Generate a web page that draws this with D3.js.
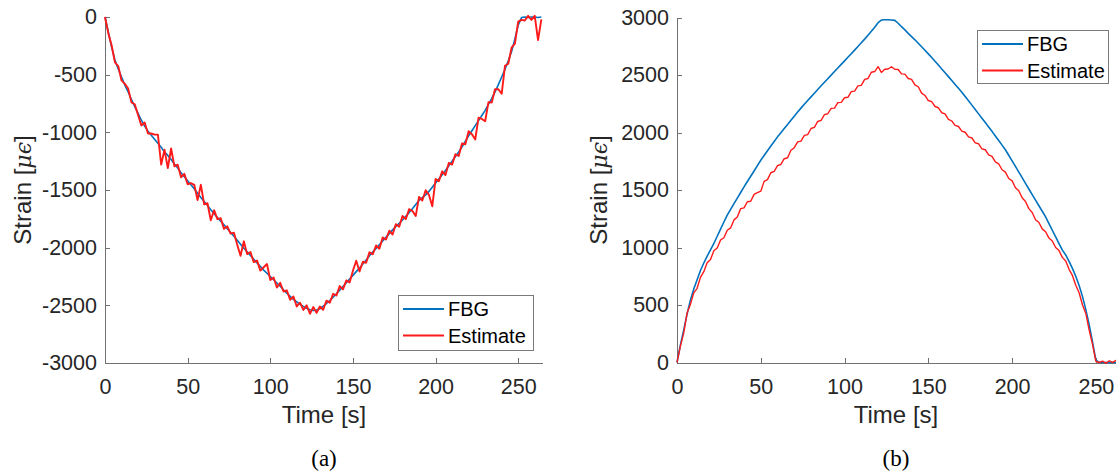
<!DOCTYPE html>
<html>
<head>
<meta charset="utf-8">
<script src="https://cdn.jsdelivr.net/npm/d3@7"></script>
<style>
    body { margin: 0; background: #fff; }
    svg { font-family: "Liberation Sans", Arial, Helvetica, sans-serif; }
    .axis path, .axis line { stroke: #707070; stroke-width: 1; shape-rendering: crispEdges; }
    .axis text { fill: #262626; font-size: 21.5px; font-family: "Liberation Sans", Arial, sans-serif; }
    .label { fill: #262626; font-size: 24px; }
    .caption { fill: #000; font-size: 23px; font-family: "Liberation Serif", "Times New Roman", serif; }
    .legend text { fill: #000; font-size: 20px; }
</style>
</head>
<body>
<svg id="chart" width="1116" height="476"></svg>
<script>
// sampling grid [s]
var time = [0, 2, 4, 6, 8, 10, 12, 14, 16, 18, 20, 22, 24, 26, 28, 30, 32, 34, 36, 38,
    40, 42, 44, 46, 48, 50, 52, 54, 56, 58, 60, 62, 64, 66, 68, 70, 72, 74, 76, 78,
    80, 82, 84, 86, 88, 90, 92, 94, 96, 98, 100, 102, 104, 106, 108, 110, 112, 114, 116, 118,
    120, 122, 124, 126, 128, 130, 132, 134, 136, 138, 140, 142, 144, 146, 148, 150, 152, 154, 156, 158,
    160, 162, 164, 166, 168, 170, 172, 174, 176, 178, 180, 182, 184, 186, 188, 190, 192, 194, 196, 198,
    200, 202, 204, 206, 208, 210, 212, 214, 216, 218, 220, 222, 224, 226, 228, 230, 232, 234, 236, 238,
    240, 242, 244, 246, 248, 250, 252, 254, 256, 258, 260, 262, 264];

// panel (a): compressive strain
var fbgA = [0, -130, -260, -373, -450, -520, -590, -650, -715, -777, -835, -895, -945, -990, -1025, -1060, -1095, -1130, -1170, -1200,
    -1235, -1275, -1310, -1350, -1385, -1420, -1455, -1490, -1528, -1565, -1600, -1635, -1672, -1705, -1738, -1770, -1802, -1835, -1868, -1900,
    -1935, -1970, -2005, -2036, -2068, -2100, -2132, -2164, -2195, -2222, -2250, -2278, -2306, -2335, -2365, -2395, -2422, -2448, -2470, -2492,
    -2510, -2525, -2538, -2545, -2540, -2530, -2508, -2484, -2458, -2430, -2400, -2368, -2336, -2304, -2272, -2240, -2208, -2176, -2142, -2106,
    -2070, -2038, -2006, -1974, -1942, -1910, -1878, -1846, -1816, -1788, -1760, -1728, -1696, -1662, -1626, -1590, -1566, -1542, -1512, -1476,
    -1440, -1404, -1368, -1330, -1290, -1250, -1210, -1170, -1126, -1078, -1030, -986, -942, -898, -854, -810, -758, -706, -650, -586,
    -520, -453, -380, -300, -190, -70, -5, 0, -5, 0, 0, -5, 0];

var estA = [0, -140, -245, -393, -425, -550, -580, -620, -740, -757, -850, -940, -915, -1010, -1010, -1020, -1020, -1280, -1150, -1310,
    -1140, -1295, -1280, -1390, -1360, -1450, -1440, -1455, -1588, -1455, -1625, -1615, -1762, -1675, -1753, -1745, -1837, -1815, -1878, -1870,
    -1975, -2070, -1945, -2056, -2038, -2125, -2112, -2199, -2170, -2142, -2280, -2258, -2346, -2305, -2380, -2370, -2452, -2423, -2510, -2477,
    -2540, -2500, -2573, -2515, -2565, -2510, -2538, -2459, -2478, -2400, -2415, -2333, -2361, -2284, -2302, -2200, -2113, -2206, -2122, -2131,
    -2040, -2058, -1981, -2009, -1912, -1930, -1853, -1886, -1796, -1818, -1725, -1753, -1666, -1682, -1726, -1560, -1591, -1502, -1542, -1641,
    -1405, -1424, -1338, -1370, -1265, -1280, -1190, -1205, -1096, -1103, -990, -1016, -1062, -873, -884, -904, -738, -741, -625, -626,
    -666, -423, -405, -265, -230, -40, -25, -30, 10, -25, 10, -200, -20];

// panel (b): tensile strain
var fbgB = [0, 150, 281, 420, 542, 640, 720, 800, 865, 925, 980, 1035, 1098, 1160, 1222, 1281, 1332, 1382, 1430, 1478,
    1527, 1574, 1620, 1665, 1712, 1759, 1800, 1842, 1882, 1922, 1962, 1998, 2034, 2070, 2106, 2142, 2179, 2212, 2245, 2278,
    2310, 2342, 2374, 2406, 2437, 2468, 2499, 2530, 2561, 2592, 2623, 2654, 2685, 2716, 2748, 2780, 2812, 2846, 2880, 2916,
    2955, 2978, 2980, 2980, 2978, 2975, 2950, 2920, 2892, 2862, 2834, 2806, 2776, 2746, 2715, 2684, 2652, 2620, 2587, 2553,
    2520, 2486, 2452, 2418, 2384, 2350, 2313, 2276, 2238, 2200, 2162, 2124, 2086, 2048, 2010, 1970, 1930, 1890, 1850, 1802,
    1753, 1705, 1656, 1607, 1557, 1509, 1460, 1412, 1363, 1315, 1266, 1208, 1150, 1092, 1034, 977, 935, 880, 818, 750,
    670, 575, 460, 330, 180, 20, 0, 0, 0, 0, 0, 0, 0];

var estB = [0, 140, 255, 430, 505, 605, 645, 740, 790, 868, 895, 972, 995, 1065, 1085, 1150, 1170, 1240, 1265, 1338,
    1345, 1398, 1402, 1462, 1478, 1490, 1575, 1590, 1650, 1662, 1712, 1722, 1772, 1780, 1845, 1868, 1918, 1925, 1975, 1982,
    2035, 2045, 2096, 2105, 2155, 2163, 2210, 2212, 2260, 2262, 2302, 2306, 2355, 2360, 2405, 2410, 2462, 2470, 2524, 2530,
    2572, 2522, 2550, 2552, 2572, 2550, 2548, 2510, 2508, 2470, 2462, 2415, 2398, 2342, 2322, 2278, 2268, 2226, 2215, 2172,
    2162, 2115, 2100, 2062, 2052, 2012, 2002, 1962, 1952, 1910, 1902, 1858, 1850, 1806, 1792, 1745, 1728, 1676, 1655, 1600,
    1580, 1520, 1494, 1432, 1400, 1338, 1305, 1242, 1217, 1162, 1137, 1082, 1057, 1000, 973, 914, 883, 810, 757, 672,
    607, 502, 427, 282, 157, 10, 0, 12, -5, 15, 2, 18, 5];

var xTicks = [0, 50, 100, 150, 200, 250];
var yTicksA = [0, -500, -1000, -1500, -2000, -2500, -3000];
var yTicksB = [0, 500, 1000, 1500, 2000, 2500, 3000];
var seriesNames = ["FBG", "Estimate"];
var seriesColors = ["#0072bd", "#ff1a1a"];

var svg = d3.select("#chart");

function drawPanel(p) {
    var x = d3.scaleLinear().domain([0, 265]).range([p.left, p.right]);
    var y = d3.scaleLinear().domain(p.yDomain).range([p.bottom, p.top]);
    var plain = d => String(d);
    var mid = p.left + 219;

    var g = svg.append("g");

    // x axis
    g.append("g")
        .classed("axis", true)
        .attr("transform", "translate(0," + p.bottom + ")")
        .call(d3.axisBottom(x).tickValues(xTicks).tickFormat(plain).tickSizeInner(-5).tickSizeOuter(0).tickPadding(16))
        .call(a => a.select(".domain").attr("d", "M" + p.left + ",0.5H" + p.right));

    // y axis
    g.append("g")
        .classed("axis", true)
        .attr("transform", "translate(" + p.left + ",0)")
        .call(d3.axisLeft(y).tickValues(p.yTicks).tickFormat(plain).tickSizeInner(-5).tickSizeOuter(0).tickPadding(8))
        .call(a => a.select(".domain").attr("d", "M0.5," + p.top + "V" + p.bottom));

    var line = d3.line()
        .x((d, i) => x(time[i]))
        .y(d => y(d));

    g.append("path")
        .datum(p.fbg)
        .attr("d", line)
        .attr("fill", "none")
        .attr("stroke", seriesColors[0])
        .attr("stroke-width", 1.6)
        .attr("stroke-linejoin", "round");

    g.append("path")
        .datum(p.est)
        .attr("d", line)
        .attr("fill", "none")
        .attr("stroke", seriesColors[1])
        .attr("stroke-width", p.estWidth)
        .attr("stroke-linejoin", "round");

    // axis labels
    g.append("text")
        .classed("label", true)
        .attr("x", mid)
        .attr("y", 423)
        .attr("text-anchor", "middle")
        .text("Time [s]");

    var yl = g.append("text")
        .classed("label", true)
        .attr("transform", "translate(" + p.ylabelX + "," + ((p.top + p.bottom) / 2) + ") rotate(-90)")
        .attr("text-anchor", "middle");
    yl.append("tspan").text("Strain [");
    yl.append("tspan").attr("font-family", "'DejaVu Serif', serif").attr("font-style", "italic").attr("font-size", "22px").text("\u03bc\u03f5");
    yl.append("tspan").text("]");

    // caption
    g.append("text")
        .classed("caption", true)
        .attr("x", mid)
        .attr("y", 466)
        .attr("text-anchor", "middle")
        .text(p.caption);

    // legend
    var lg = g.append("g").classed("legend", true);
    lg.append("rect")
        .attr("x", p.legend[0] + 0.5)
        .attr("y", p.legend[1] + 0.5)
        .attr("width", p.legend[2])
        .attr("height", p.legend[3])
        .attr("fill", "#fff")
        .attr("stroke", "#7a7a7a")
        .attr("stroke-width", 1);
    seriesNames.forEach((name, i) => {
        var ly = p.legend[1] + 14 + i * 26.5;
        lg.append("line")
            .attr("x1", p.legend[0] + 5)
            .attr("x2", p.legend[0] + 46)
            .attr("y1", ly)
            .attr("y2", ly)
            .attr("stroke", seriesColors[i])
            .attr("stroke-width", 2);
        lg.append("text")
            .attr("x", p.legend[0] + 50)
            .attr("y", ly + 7)
            .text(name);
    });
}

drawPanel({
    left: 105, right: 543, top: 17, bottom: 363,
    yDomain: [-3000, 0], yTicks: yTicksA,
    fbg: fbgA, est: estA, estWidth: 1.9,
    ylabelX: 31, caption: "(a)",
    legend: [398, 295, 135, 55]
});

drawPanel({
    left: 677, right: 1121, top: 17.5, bottom: 362.5,
    yDomain: [0, 3000], yTicks: yTicksB,
    fbg: fbgB, est: estB, estWidth: 1.4,
    ylabelX: 607, caption: "(b)",
    legend: [977, 30, 131, 53]
});
</script>
</body>
</html>
